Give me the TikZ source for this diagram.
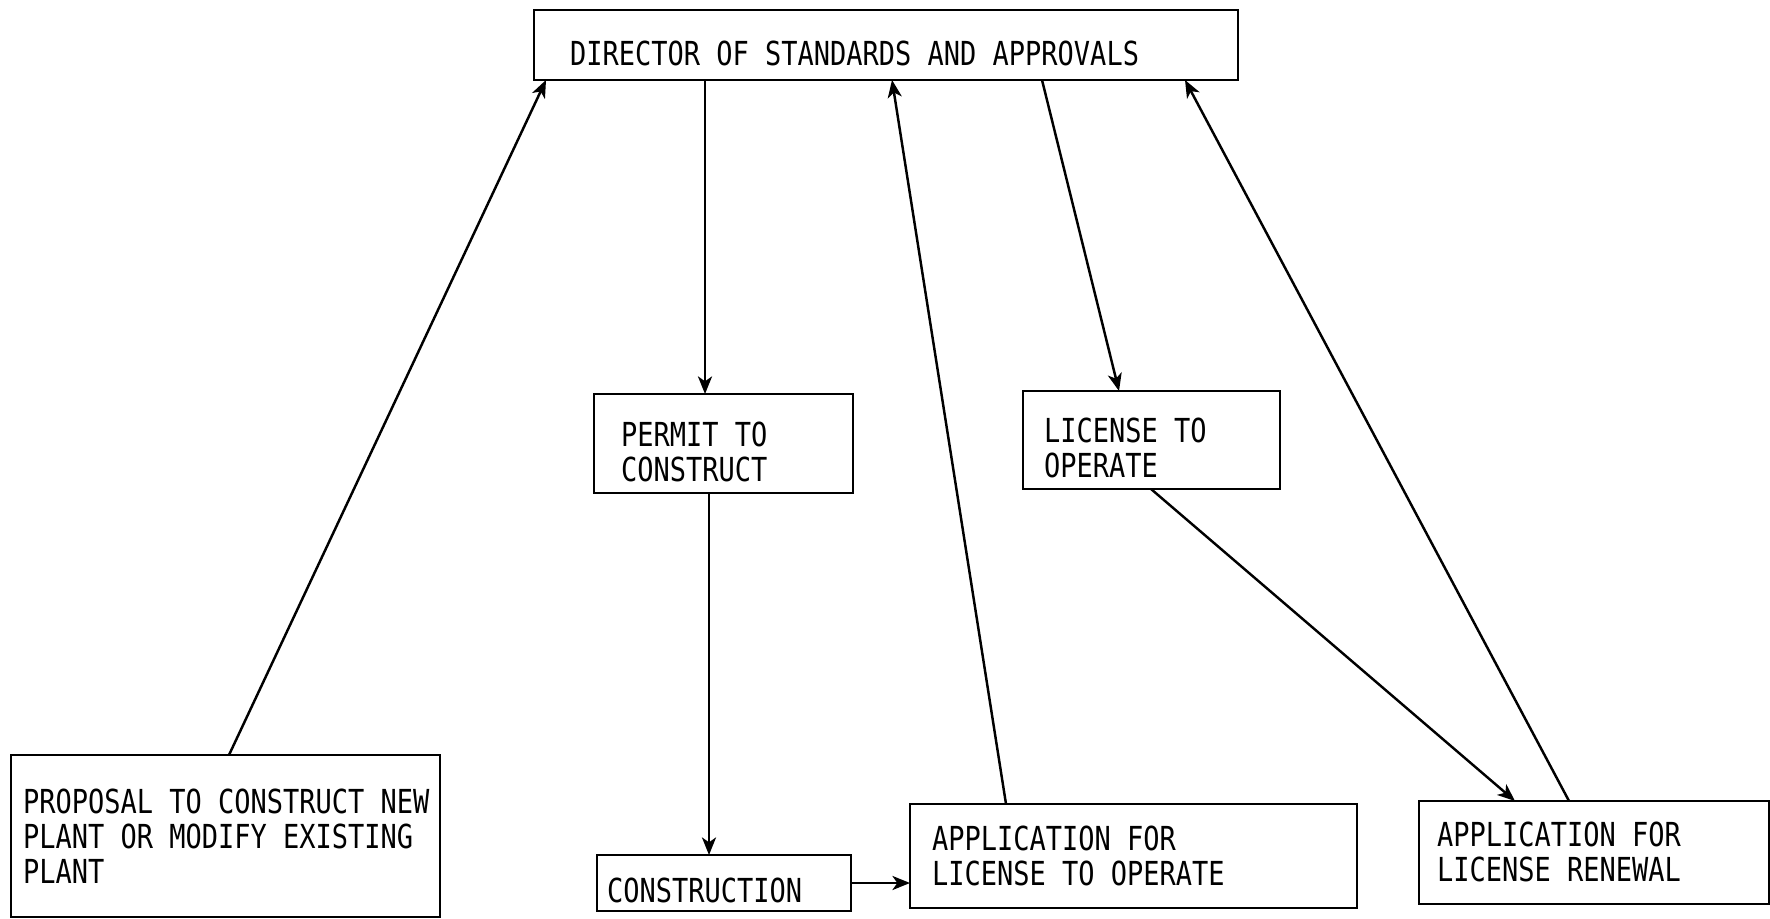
\documentclass[tikz,border=0pt]{standalone}
\usepackage{fontspec}
\setmainfont{DejaVu Sans Mono}[FakeStretch=0.817]
\usetikzlibrary{arrows.meta}
% typewriter-style label: fixed pitch
\newcommand\boxfont{\fontsize{9.4}{9.8}\selectfont}
% full-width word spaces, as on a typewriter
\newcommand\pitchspace{\spaceskip=0.4918em\relax\xspaceskip=0.4918em\relax}
% set a left-aligned block of fixed lines, lowered by #1 without changing its reported size
\newcommand\lines[2]{\raisebox{-#1}[\height][\depth]{\begin{tabular}{@{}l@{}}#2\end{tabular}}}
\begin{document}
\begin{tikzpicture}[x=0.01cm,y=-0.01cm,
  box/.style={draw, line width=0.75pt, rectangle, anchor=north west, align=flush left,
    font=\boxfont, execute at begin node=\pitchspace, inner ysep=0pt, outer sep=0pt},
  flow/.style={line width=0.7pt, -{Stealth[length=5pt,width=4pt,inset=1.4pt]}}]
\useasboundingbox (0,0) rectangle (1770,919);

% boxes: top-left corner, size, left padding
\node[box, minimum height=70*0.01cm, text width=(704-72)*0.01cm, inner xsep=36*0.01cm]
  (dir) at (534,10) {\lines{3.9pt}{DIRECTOR OF STANDARDS AND APPROVALS}};
\node[box, minimum height=162*0.01cm, text width=(429-24)*0.01cm, inner xsep=12*0.01cm]
  (prop) at (11,755) {\lines{1.5pt}{PROPOSAL TO CONSTRUCT NEW\\PLANT OR MODIFY EXISTING\\PLANT}};
\node[box, minimum height=99*0.01cm, text width=(259-54)*0.01cm, inner xsep=27*0.01cm]
  (perm) at (594,394) {\lines{3.8pt}{PERMIT TO\\CONSTRUCT}};
\node[box, minimum height=98*0.01cm, text width=(257-42)*0.01cm, inner xsep=21*0.01cm]
  (lic) at (1023,391) {\lines{3.7pt}{LICENSE TO\\OPERATE}};
\node[box, minimum height=56*0.01cm, text width=(254-20)*0.01cm, inner xsep=10*0.01cm]
  (cons) at (597,855) {\lines{3.4pt}{CONSTRUCTION}};
\node[box, minimum height=104*0.01cm, text width=(447-44)*0.01cm, inner xsep=22*0.01cm]
  (app) at (910,804) {\lines{1.4pt}{APPLICATION FOR\\LICENSE TO OPERATE}};
\node[box, minimum height=103*0.01cm, text width=(350-36)*0.01cm, inner xsep=18*0.01cm]
  (ren) at (1419,801) {\lines{1.2pt}{APPLICATION FOR\\LICENSE RENEWAL}};

% connectors, attached at points along the box edges
\draw[flow] ([xshift=218*0.01cm]prop.north west) -- ([xshift=12*0.01cm]dir.south west);
\draw[flow] ([xshift=171*0.01cm]dir.south west) -- ([xshift=111*0.01cm]perm.north west);
\draw[flow] ([xshift=96*0.01cm]app.north west) -- ([xshift=358*0.01cm]dir.south west);
\draw[flow] ([xshift=508*0.01cm]dir.south west) -- ([xshift=96*0.01cm]lic.north west);
\draw[flow] ([xshift=150*0.01cm]ren.north west) -- ([xshift=651*0.01cm]dir.south west);
\draw[flow] ([xshift=128*0.01cm]lic.south west) -- ([xshift=96*0.01cm]ren.north west);
\draw[flow] ([xshift=115*0.01cm]perm.south west) -- ([xshift=112*0.01cm]cons.north west);
\draw[flow] (cons.east) -- (cons.east -| app.west);
\end{tikzpicture}
\end{document}
